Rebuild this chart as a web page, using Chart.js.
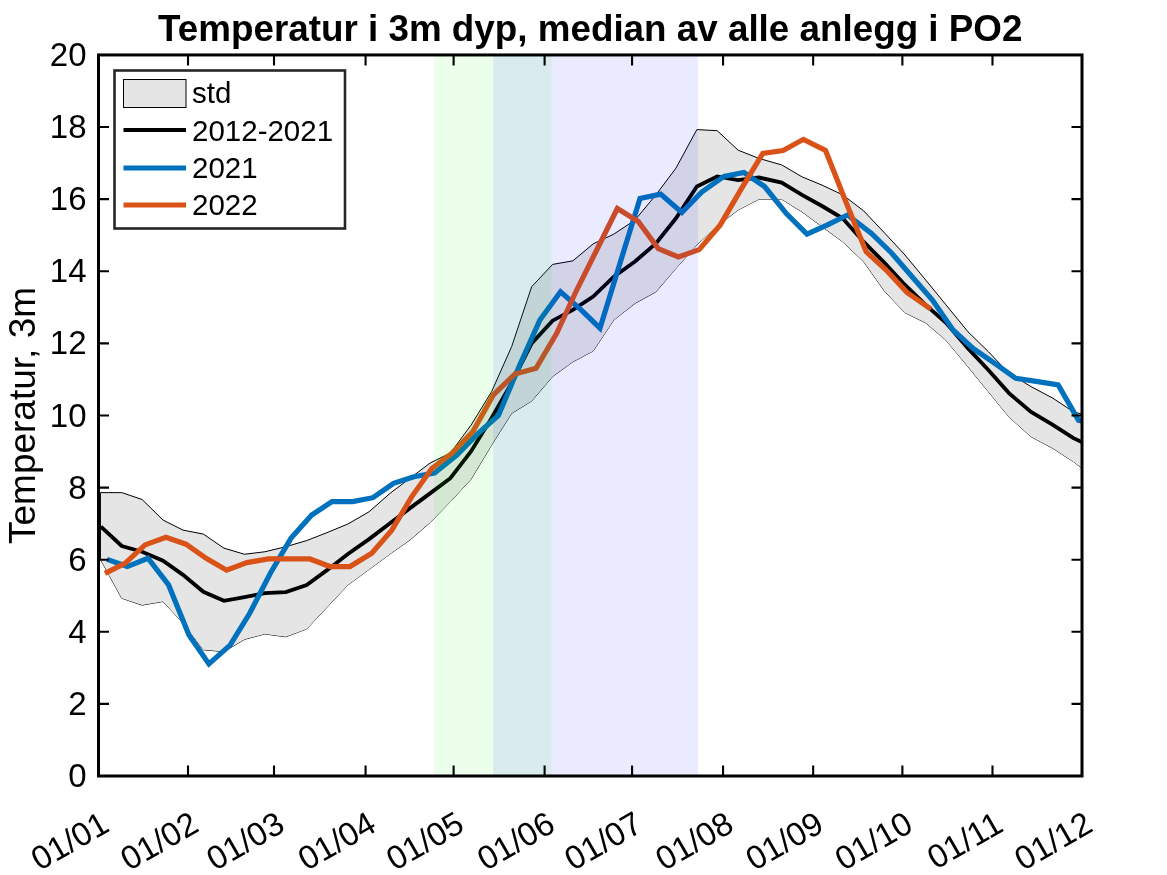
<!DOCTYPE html>
<html><head><meta charset="utf-8">
<style>html,body{margin:0;padding:0;background:#fff}canvas{display:block}</style>
<script src="https://cdn.jsdelivr.net/npm/chart.js@4"></script>
</head><body><canvas id="c" width="1167" height="875"></canvas>
<script>
const chartTitle = "Temperatur i 3m dyp, median av alle anlegg i PO2";
const yTitle = "Temperatur, 3m";
const xTickDays = [0, 30.4, 59.6, 90.7, 120.6, 151.5, 181.2, 212.1, 242.7, 273, 303.6, 334];
const xTickLabels = ["01/01","01/02","01/03","01/04","01/05","01/06","01/07","01/08","01/09","01/10","01/11","01/12"];
const yTicks = [0,2,4,6,8,10,12,14,16,18,20];
const legendLabels = ["std","2012-2021","2021","2022"];

const stdDays = [0.8,7.9,14.8,21.9,28.7,35.6,42.6,49.6,56.5,63.6,70.7,77.6,84.7,91.9,99,105.8,112.6,119.5,126.5,133.5,140.3,147.1,154.2,161.1,168,175,182.2,189.3,196.1,203.2,210.1,217.2,224.3,232,238.9,245.7,252.7,259.8,267.1,273.9,280.9,287.8,295.3,302.2,309.2,316.7,324.1,331.1,338.1];
const stdUpper = [7.86,7.86,7.67,7.1,6.82,6.71,6.32,6.15,6.22,6.36,6.53,6.75,6.99,7.33,7.84,8.26,8.68,8.96,9.73,10.66,11.91,13.57,14.19,14.29,14.76,15.03,15.42,16.12,16.86,17.93,17.9,17.36,17.13,16.95,16.62,16.39,16.12,15.68,15.05,14.45,13.76,13.07,12.32,11.77,11.17,10.8,10.48,10.1,9.95];
const stdLower = [5.99,4.93,4.74,4.84,4.24,3.5,3.45,3.79,3.94,3.86,4.08,4.68,5.3,5.73,6.16,6.55,7.03,7.61,8.23,9.18,10.06,10.4,11.08,11.49,11.79,12.65,13.11,13.43,14.08,14.73,15.26,15.7,16.0,16.0,15.65,15.24,14.82,14.27,13.43,12.85,12.57,12.09,11.35,10.66,9.96,9.41,9.09,8.72,8.27];
const medianValues = [6.92,6.38,6.22,5.97,5.58,5.11,4.86,4.96,5.07,5.1,5.3,5.71,6.16,6.57,7.01,7.43,7.84,8.26,9.0,9.93,10.9,12.0,12.63,12.93,13.3,13.85,14.27,14.77,15.47,16.35,16.63,16.53,16.6,16.46,16.12,15.81,15.47,14.82,14.22,13.62,13.07,12.57,11.86,11.26,10.62,10.1,9.74,9.37,9.1];
const days2021 = [2.9,9.8,16.8,23.8,30.7,37.5,44.7,51.4,58.4,65.4,72.4,79.3,86.3,93.2,100.2,107.1,114.1,121.7,128.9,135.8,142.8,149.9,156.9,163.9,170.3,177.1,183.9,190.9,198.1,204.9,212.4,219.2,226.2,233.6,240.6,247.4,254.4,262.5,269.4,276.3,283.2,290.2,297,304.5,311.5,319,325.9,332.8,339.8];
const values2021 = [6.01,5.81,6.04,5.3,3.91,3.11,3.63,4.52,5.63,6.6,7.24,7.61,7.61,7.72,8.12,8.3,8.4,8.9,9.5,10.0,11.35,12.65,13.43,12.93,12.42,14.22,16.02,16.14,15.63,16.2,16.63,16.74,16.35,15.6,15.03,15.28,15.56,15.05,14.5,13.85,13.2,12.37,11.86,11.44,11.03,10.94,10.85,9.87,9.73];
const days2022 = [2.2,9,15.8,22.9,29.7,36.7,43.5,50.4,57.7,64.7,71.8,78.6,85.4,92.8,99.6,106.4,113.2,120,127.1,134.1,141.4,148.6,155.6,162.4,169.2,176.2,183.3,190.1,196.9,204,211.1,218.4,225.6,232.5,239.4,246.9,253.8,260.7,267.4,274.6,282.7];
const values2022 = [5.62,5.9,6.41,6.62,6.43,6.03,5.71,5.92,6.02,6.02,6.02,5.81,5.81,6.18,6.82,7.75,8.53,8.95,9.55,10.57,11.15,11.31,12.28,13.48,14.59,15.74,15.38,14.63,14.4,14.6,15.28,16.3,17.27,17.35,17.66,17.35,15.93,14.54,14.04,13.41,12.95];
const greenBandDays = [113.9,153.9];
const blueBandDays = [134,203.6];
const bandTop = [20,20];
const stdEdgeDays = [0.8,0.8];
const stdEdgeValues = [7.86,5.99];

const zip = (xs, ys) => xs.map((x,i)=>({x, y:ys[i]}));
const BLUE="#0072bd", ORANGE="#d95319";
const FONT="'Liberation Sans', Arial, sans-serif";

const frame = {
  id:'frame',
  afterDraw(ch){
    const {ctx,chartArea:a,scales:{x,y}}=ch;
    ctx.save();
    ctx.strokeStyle='#000';ctx.lineWidth=2.1;
    ctx.beginPath();
    const L=10.5;
    xTickDays.forEach(d=>{const p=x.getPixelForValue(d);
      ctx.moveTo(p,a.bottom);ctx.lineTo(p,a.bottom-L);
      ctx.moveTo(p,a.top);ctx.lineTo(p,a.top+L);});
    yTicks.forEach(v=>{const p=y.getPixelForValue(v);
      ctx.moveTo(a.left,p);ctx.lineTo(a.left+L,p);
      ctx.moveTo(a.right,p);ctx.lineTo(a.right-L,p);});
    ctx.stroke();
    ctx.lineWidth=3;
    ctx.strokeRect(a.left,a.top,a.right-a.left,a.bottom-a.top);
    // legend
    const bx=114.5,by=70.5,bw=230.5,bh=158;
    ctx.fillStyle='#fff';ctx.fillRect(bx,by,bw,bh);
    ctx.strokeStyle='#262626';ctx.lineWidth=2.6;ctx.strokeRect(bx,by,bw,bh);
    const sx=123.5,sw=62.5,tx=192;
    ctx.fillStyle='#e5e5e5';ctx.fillRect(sx,79.5,sw,28);
    ctx.strokeStyle='#000';ctx.lineWidth=1;ctx.strokeRect(sx,79.5,sw,28);
    [[130,'#000',3.8],[168,BLUE,5.2],[205,ORANGE,5.2]].forEach(([yy,c,w])=>{
      ctx.strokeStyle=c;ctx.lineWidth=w;ctx.beginPath();ctx.moveTo(sx,yy);ctx.lineTo(sx+sw,yy);ctx.stroke();});
    ctx.fillStyle='#000';ctx.font="29.5px "+FONT;ctx.textBaseline='middle';ctx.textAlign='left';
    legendLabels.forEach((t,i)=>ctx.fillText(t,tx,[95,133,170,207][i]));
    ctx.restore();
  }
};

new Chart(document.getElementById('c'),{
  type:'line',
  data:{datasets:[
    {label:'green',data:zip(greenBandDays,bandTop),order:1,fill:'origin',backgroundColor:'rgba(0,255,0,0.08)',borderWidth:0,pointRadius:0},
    {label:'blue',data:zip(blueBandDays,bandTop),order:0,fill:'origin',backgroundColor:'rgba(0,0,255,0.08)',borderWidth:0,pointRadius:0},
    {label:'2022',data:zip(days2022,values2022),order:2,borderColor:ORANGE,borderWidth:5.2,pointRadius:0,fill:false,tension:0},
    {label:'2021',data:zip(days2021,values2021),order:3,borderColor:BLUE,borderWidth:5.2,pointRadius:0,fill:false,tension:0},
    {label:'2012-2021',data:zip(stdDays,medianValues),order:4,borderColor:'#000',borderWidth:3.8,pointRadius:0,fill:false,tension:0},
    {label:'stdUpper',data:zip(stdDays,stdUpper),order:5,borderColor:'#000',borderWidth:1,pointRadius:0,fill:'+1',backgroundColor:'#e5e5e5',tension:0},
    {label:'stdLower',data:zip(stdDays,stdLower),order:5,borderColor:'#000',borderWidth:1,pointRadius:0,fill:false,tension:0},
    {label:'stdEdge',data:zip(stdEdgeDays,stdEdgeValues),order:5,borderColor:'#000',borderWidth:1,pointRadius:0,fill:false,tension:0},
  ]},
  options:{
    responsive:false,animation:false,devicePixelRatio:1,
    layout:{padding:{left:0,right:85,top:0,bottom:0}},
    plugins:{
      legend:{display:false},tooltip:{enabled:false},
      title:{display:true,text:chartTitle,fullSize:false,color:'#000',font:{family:FONT,size:36.8,weight:'bold',lineHeight:1.2},padding:{top:9,bottom:1.8}},
    },
    scales:{
      x:{type:'linear',min:0,max:334,
        afterBuildTicks(s){s.ticks=xTickDays.map(v=>({value:v}));},
        afterFit(s){s.height=99;},
        grid:{display:false},border:{display:false},
        ticks:{autoSkip:false,minRotation:30,maxRotation:30,padding:21,labelOffset:8,color:'#000',font:{family:FONT,size:33},
          callback(v,i){return xTickLabels[i];}}},
      y:{type:'linear',min:0,max:20,
        afterBuildTicks(s){s.ticks=yTicks.map(v=>({value:v}));},
        afterFit(s){s.width=98.5;},
        grid:{display:false},border:{display:false},
        title:{display:true,text:yTitle,color:'#000',font:{family:FONT,size:37},padding:{top:3,bottom:5}},
        ticks:{padding:4,labelOffset:2,color:'#000',font:{family:FONT,size:33}}},
    }
  },
  plugins:[frame]
});
</script></body></html>
